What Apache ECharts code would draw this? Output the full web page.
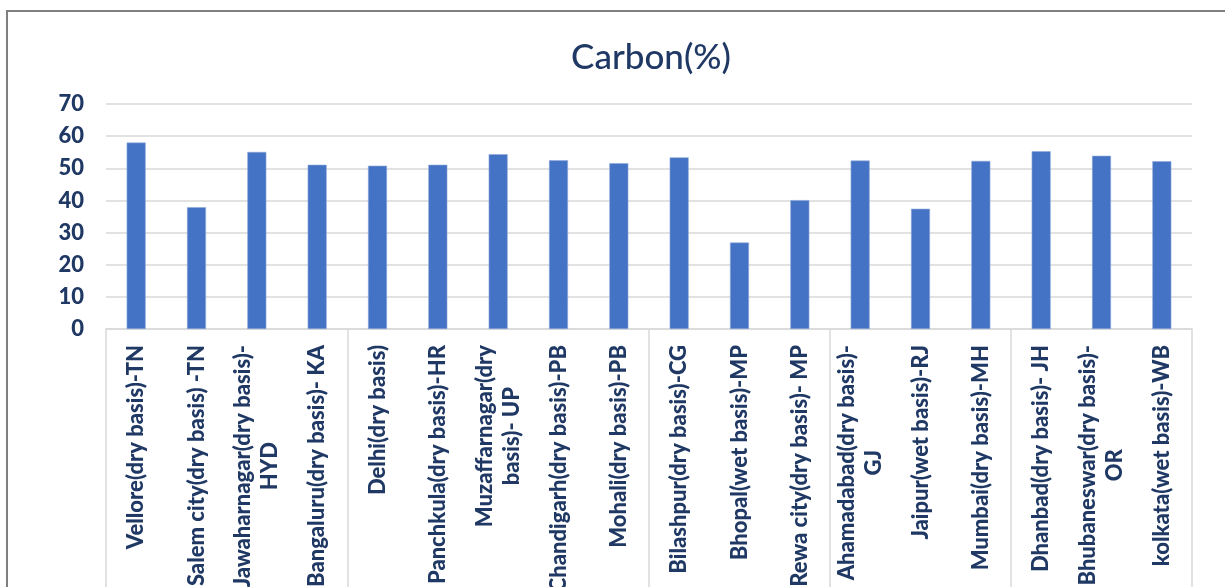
<!DOCTYPE html>
<html>
<head>
<meta charset="utf-8">
<script src="https://cdn.jsdelivr.net/npm/echarts@6/dist/echarts.min.js"></script>
<style>
  html, body { margin: 0; padding: 0; background: #fff; }
  #main { width: 1225px; height: 587px; }
</style>
</head>
<body>
<div id="main"></div>
<script>
// sites and carbon content (%)
var sites = [
    'Vellore(dry basis)-TN',
    'Salem city(dry basis) -TN',
    'Jawaharnagar(dry basis)-\nHYD',
    'Bangaluru(dry basis)- KA',
    'Delhi(dry basis)',
    'Panchkula(dry basis)-HR',
    'Muzaffarnagar(dry\nbasis)- UP',
    'Chandigarh(dry basis)-PB',
    'Mohali(dry basis)-PB',
    'Bilashpur(dry basis)-CG',
    'Bhopal(wet basis)-MP',
    'Rewa city(dry basis)- MP',
    'Ahamadabad(dry basis)-\nGJ',
    'Jaipur(wet basis)-RJ',
    'Mumbai(dry basis)-MH',
    'Dhanbad(dry basis)- JH',
    'Bhubaneswar(dry basis)-\nOR',
    'kolkata(wet basis)-WB'
];
var carbon = [58.0, 37.9, 55.1, 51.1, 50.8, 51.1, 54.4, 52.5, 51.6,
              53.4, 26.9, 40.1, 52.4, 37.4, 52.3, 55.3, 53.9, 52.2];
// index of first site in each region group (outer category level)
var groupStarts = [0, 4, 9, 12, 15];
var yTicks = [0, 10, 20, 30, 40, 50, 60, 70];

var navy = '#1f3864';
var font = 'Lato, "Open Sans", sans-serif';

var myChart = echarts.init(document.getElementById('main'));

var option = {
    backgroundColor: '#ffffff',
    animation: false,
    title: {
        text: 'Carbon(%)',
        left: 646,
        top: 35,
        textAlign: 'center',
        textStyle: {
            color: navy,
            fontFamily: font,
            fontWeight: 500,
            fontSize: 35
        }
    },
    graphic: [{
        type: 'rect',
        silent: true,
        shape: { x: 7, y: 11, width: 1400, height: 800 },
        style: { fill: null, stroke: '#7f7f7f', lineWidth: 2 }
    }],
    grid: {
        left: 106,
        right: 33,
        top: 104,
        bottom: 258,
        containLabel: false,
        outerBoundsMode: 'none'
    },
    xAxis: {
        type: 'category',
        data: sites,
        boundaryGap: true,
        axisLine: { lineStyle: { color: '#d9d9d9', width: 1.5 } },
        axisTick: {
            show: true,
            length: 280,
            interval: function (i) { return groupStarts.indexOf(i) >= 0; },
            lineStyle: { color: '#d9d9d9', width: 1.5 }
        },
        axisLabel: {
            interval: 0,
            rotate: 90,
            margin: 16,
            color: navy,
            fontFamily: font,
            fontWeight: 900,
            fontSize: 22,
            formatter: function (v) {
                return v.split('\n').map(function (s) { return '{c|' + s + '}'; }).join('\n');
            },
            rich: {
                c: {
                    align: 'center',
                    color: navy,
                    fontFamily: font,
                    fontWeight: 900,
                    fontSize: 22,
                    lineHeight: 27
                }
            }
        }
    },
    yAxis: {
        type: 'value',
        min: yTicks[0],
        max: yTicks[yTicks.length - 1],
        interval: 10,
        axisLine: { show: false },
        axisTick: { show: false },
        splitLine: { lineStyle: { color: '#d9d9d9', width: 1.5 } },
        axisLabel: {
            margin: 22,
            color: navy,
            fontFamily: font,
            fontWeight: 900,
            fontSize: 22
        }
    },
    series: [{
        name: 'Carbon(%)',
        type: 'bar',
        data: carbon,
        barWidth: 19,
        itemStyle: {
            color: '#4472c4',
            borderColor: '#8eaadb',
            borderWidth: 0.6
        }
    }]
};
myChart.setOption(option);
</script>
</body>
</html>
